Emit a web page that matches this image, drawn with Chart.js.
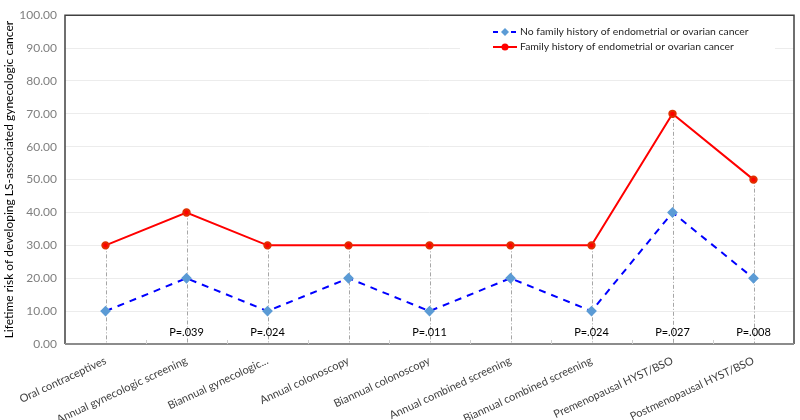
<!DOCTYPE html>
<html>
<head>
<meta charset="utf-8">
<script src="https://cdn.jsdelivr.net/npm/chart.js@4"></script>
<style>
  html, body { margin: 0; padding: 0; background: #fff; }
  #wrap { width: 800px; height: 420px; }
</style>
</head>
<body>
<div id="wrap"><canvas id="riskChart" width="800" height="420"></canvas></div>
<script>
const categories = [
  "Oral contraceptives",
  "Annual gynecologic screening",
  "Biannual gynecologic...",
  "Annual colonoscopy",
  "Biannual colonoscopy",
  "Annual combined screening",
  "Biannual combined screening",
  "Premenopausal HYST/BSO",
  "Postmenopausal HYST/BSO",
];
const noFamilyHistory = [10, 20, 10, 20, 10, 20, 10, 40, 20];
const familyHistory = [30, 40, 30, 30, 30, 30, 30, 70, 50];
const pValues = ["", "P=.039", "P=.024", "", "P=.011", "", "P=.024", "P=.027", "P=.008"];
const yTicks = [0, 10, 20, 30, 40, 50, 60, 70, 80, 90, 100];

const FONT = "Lato, 'Open Sans', sans-serif";

// drop lines, frame, tick marks, p-values and legend box
const decorPlugin = {
  id: "decor",
  beforeDatasetsDraw(chart) {
    const { ctx, chartArea: a, scales: { x, y } } = chart;
    ctx.save();
    ctx.strokeStyle = "#a6a6a6";
    ctx.lineWidth = 1;
    ctx.setLineDash([4, 2, 1, 2]);
    categories.forEach((_, i) => {
      const px = Math.round(x.getPixelForValue(i)) + 0.5;
      const top = y.getPixelForValue(Math.max(noFamilyHistory[i], familyHistory[i]));
      ctx.beginPath();
      ctx.moveTo(px, top);
      ctx.lineTo(px, a.bottom);
      ctx.stroke();
    });
    ctx.setLineDash([]);

    // legend background hides gridline
    ctx.fillStyle = "#fff";
    ctx.fillRect(460, 20, 315, 40);
    ctx.restore();
  },
  afterDraw(chart) {
    const { ctx, chartArea: a, scales: { x } } = chart;
    ctx.save();
    // frame
    ctx.strokeStyle = "#404040";
    ctx.lineWidth = 1.5;
    ctx.beginPath();
    ctx.moveTo(a.left, a.bottom);
    ctx.lineTo(a.left, a.top);
    ctx.lineTo(a.right, a.top);
    ctx.lineTo(a.right, a.bottom);
    ctx.stroke();
    ctx.strokeStyle = "#8c8c8c";
    ctx.lineWidth = 2;
    ctx.beginPath();
    ctx.moveTo(a.left, a.bottom);
    ctx.lineTo(a.right, a.bottom);
    ctx.stroke();

    // category boundary ticks
    const step = x.getPixelForValue(1) - x.getPixelForValue(0);
    ctx.strokeStyle = "#d0d0d0";
    ctx.lineWidth = 1;
    for (let i = 1; i < categories.length; i++) {
      const px = Math.round(x.getPixelForValue(i) - step / 2) + 0.5;
      ctx.beginPath();
      ctx.moveTo(px, a.bottom - 4);
      ctx.lineTo(px, a.bottom);
      ctx.stroke();
    }

    // p-values
    ctx.fillStyle = "#000";
    ctx.font = "11px " + FONT;
    ctx.textAlign = "center";
    ctx.textBaseline = "middle";
    pValues.forEach((p, i) => {
      if (p) ctx.fillText(p, x.getPixelForValue(i), a.bottom - 12);
    });

    // legend
    const items = [
      { label: "No family history of endometrial or ovarian cancer", color: "#0000ff", dash: [5, 4], marker: "diamond" },
      { label: "Family history of endometrial or ovarian cancer", color: "#ff0000", dash: [], marker: "circle" },
    ];
    ctx.font = "10.4px " + FONT;
    ctx.textAlign = "left";
    items.forEach((it, k) => {
      const ly = 32 + k * 15;
      ctx.strokeStyle = it.color;
      ctx.lineWidth = 2;
      ctx.setLineDash(it.dash);
      ctx.beginPath();
      ctx.moveTo(493, ly);
      ctx.lineTo(517, ly);
      ctx.stroke();
      ctx.setLineDash([]);
      if (it.marker === "diamond") {
        ctx.fillStyle = "#5b9bd5";
        ctx.beginPath();
        ctx.moveTo(505, ly - 4);
        ctx.lineTo(509, ly);
        ctx.lineTo(505, ly + 4);
        ctx.lineTo(501, ly);
        ctx.closePath();
        ctx.fill();
      } else {
        ctx.fillStyle = "#ff0000";
        ctx.beginPath();
        ctx.arc(505, ly, 3.5, 0, Math.PI * 2);
        ctx.fill();
      }
      ctx.fillStyle = "#262626";
      ctx.fillText(it.label, 520, ly);
    });
    ctx.restore();
  },
};

new Chart(document.getElementById("riskChart"), {
  type: "line",
  data: {
    labels: categories,
    datasets: [
      {
        label: "No family history of endometrial or ovarian cancer",
        data: noFamilyHistory,
        borderColor: "#0000ff",
        borderWidth: 2,
        borderDash: [7, 6],
        pointStyle: "rectRot",
        pointRadius: 4,
        pointBackgroundColor: "#5b9bd5",
        pointBorderColor: "#5b9bd5",
        tension: 0,
      },
      {
        label: "Family history of endometrial or ovarian cancer",
        data: familyHistory,
        borderColor: "#ff0000",
        borderWidth: 2,
        pointStyle: "circle",
        pointRadius: 3.2,
        pointBackgroundColor: "#ff0000",
        pointBorderColor: "#e03000",
        tension: 0,
      },
    ],
  },
  options: {
    responsive: false,
    animation: false,
    layout: { padding: { top: 5, right: 3, left: 0, bottom: 0 } },
    plugins: {
      legend: { display: false },
      tooltip: { enabled: false },
    },
    scales: {
      x: {
        offset: true,
        grid: { display: false },
        border: { display: false },
        ticks: {
          minRotation: 25,
          maxRotation: 25,
          autoSkip: false,
          color: "#404040",
          font: { family: FONT, size: 11 },
          padding: 2,
        },
        afterFit(scale) { scale.height = 76; },
      },
      y: {
        min: 0,
        max: 100,
        afterBuildTicks(scale) { scale.ticks = yTicks.map((v) => ({ value: v })); },
        grid: { color: "#ececec", drawTicks: false },
        border: { display: false },
        ticks: {
          color: "#7f7f7f",
          font: { family: FONT, size: 12 },
          padding: 8,
          callback: (v) => Number(v).toFixed(2),
        },
        title: {
          display: true,
          text: "Lifetime risk of developing LS-associated gynecologic cancer",
          color: "#000",
          font: { family: FONT, size: 12 },
          padding: 2,
        },
        afterFit(scale) { scale.width = 65; },
      },
    },
  },
  plugins: [decorPlugin],
});
</script>
</body>
</html>
